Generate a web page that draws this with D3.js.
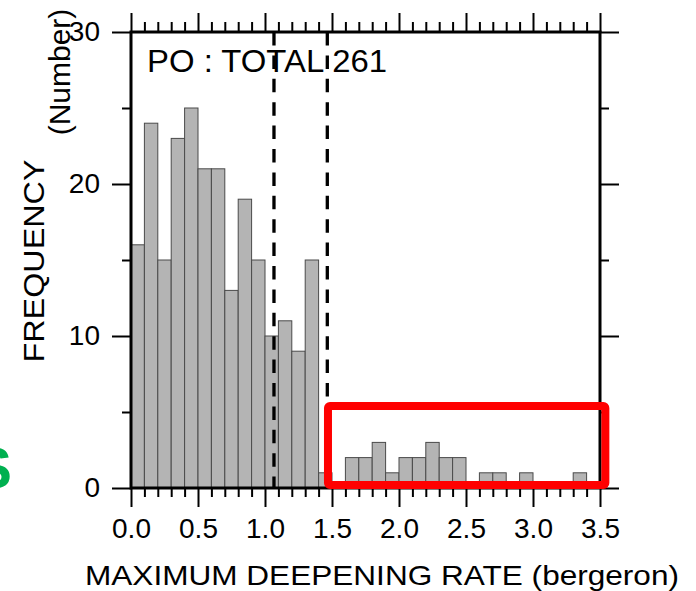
<!DOCTYPE html>
<html lang="en">
<head>
<meta charset="UTF-8">
<title>PO : TOTAL 261</title>
<script src="https://cdn.jsdelivr.net/npm/d3@7/dist/d3.min.js"></script>
<style>
    body { margin: 0; background: #fff; }
    svg text { font-family: "Liberation Sans", Arial, sans-serif; fill: #000; }
    .bar { fill: #b4b4b4; stroke: #4a4a4a; stroke-width: 1; }
    .tick line { stroke: #000; stroke-width: 2; }
    .tick text { font-size: 28px; }
</style>
</head>
<body>
<svg width="696" height="591"></svg>
<script>
    // histogram, bins of 0.1 bergeron starting at 0.0
    var binWidth = 0.1;
    var counts = [16, 24, 15, 23, 25, 21, 21, 13, 19, 15,
                  10, 11, 9, 15, 1, 0, 2, 2, 3, 1,
                  2, 2, 3, 2, 2, 0, 1, 1, 0, 1,
                  0, 0, 0, 1, 0];
    var xTickLabels = ["0.0", "0.5", "1.0", "1.5", "2.0", "2.5", "3.0", "3.5"];
    var yTickLabels = ["0", "10", "20", "30"];
    var thresholds = [1.067, 1.465];          // dashed lines
    var boxRange = {x: [1.47, 3.54], y: [0.2, 5.4]};   // red highlight

    var svg = d3.select("svg"),
        margin = {left: 131, top: 32, right: 96, bottom: 103},
        width = 696 - margin.left - margin.right,
        height = 591 - margin.top - margin.bottom;

    var x = d3.scaleLinear().domain([0, 3.5]).range([margin.left, margin.left + width]);
    var y = d3.scaleLinear().domain([0, 30]).range([margin.top + height, margin.top]);

    var bins = counts.map(function(c, i) { return {x0: i * binWidth, x1: (i + 1) * binWidth, n: c}; });

    svg.selectAll(".bar")
        .data(bins.filter(function(d) { return d.n > 0; }))
        .enter().append("rect")
        .attr("class", "bar")
        .attr("x", function(d) { return x(d.x0); })
        .attr("width", function(d) { return x(d.x1) - x(d.x0); })
        .attr("y", function(d) { return y(d.n); })
        .attr("height", function(d) { return y(0) - y(d.n); });

    svg.selectAll(".thr")
        .data(thresholds)
        .enter().append("line")
        .attr("x1", function(d) { return x(d); })
        .attr("x2", function(d) { return x(d); })
        .attr("y1", y(30))
        .attr("y2", y(0))
        .attr("stroke", "#000")
        .attr("stroke-width", 3.3)
        .attr("stroke-dasharray", "13.5,9.9");

    // ticks
    var majorX = xTickLabels.map(Number);
    var minorX = d3.range(0, 36).map(function(i) { return i / 10; })
        .filter(function(v) { return Math.abs(v * 2 - Math.round(v * 2)) > 1e-6; });
    var majorY = yTickLabels.map(Number);
    var minorY = [5, 15, 25];

    function noDomain(g) { g.select(".domain").remove(); }

    svg.append("g").attr("transform", "translate(0," + y(0) + ")")
        .call(d3.axisBottom(x).tickValues(minorX).tickSize(9).tickFormat("")).call(noDomain);
    svg.append("g").attr("transform", "translate(0," + y(0) + ")")
        .call(d3.axisBottom(x).tickValues(majorX).tickSize(19).tickPadding(11)
            .tickFormat(function(d, i) { return xTickLabels[i]; }))
        .call(noDomain);
    svg.append("g").attr("transform", "translate(0," + y(30) + ")")
        .call(d3.axisTop(x).tickValues(minorX).tickSize(10).tickFormat("")).call(noDomain);
    svg.append("g").attr("transform", "translate(0," + y(30) + ")")
        .call(d3.axisTop(x).tickValues(majorX).tickSize(19).tickFormat("")).call(noDomain);

    svg.append("g").attr("transform", "translate(" + x(0) + ",0)")
        .call(d3.axisLeft(y).tickValues(minorY).tickSize(9).tickFormat("")).call(noDomain);
    svg.append("g").attr("transform", "translate(" + x(0) + ",0)")
        .call(d3.axisLeft(y).tickValues(majorY).tickSize(19).tickPadding(12)
            .tickFormat(function(d, i) { return yTickLabels[i]; }))
        .call(noDomain);
    svg.append("g").attr("transform", "translate(" + x(3.5) + ",0)")
        .call(d3.axisRight(y).tickValues(minorY).tickSize(9).tickFormat("")).call(noDomain);
    svg.append("g").attr("transform", "translate(" + x(3.5) + ",0)")
        .call(d3.axisRight(y).tickValues(majorY).tickSize(19).tickFormat("")).call(noDomain);

    // frame
    svg.append("rect")
        .attr("x", x(0)).attr("y", y(30))
        .attr("width", x(3.5) - x(0)).attr("height", y(0) - y(30))
        .attr("fill", "none").attr("stroke", "#000").attr("stroke-width", 3);

    // title
    svg.append("text")
        .attr("x", 147).attr("y", 72)
        .attr("font-size", 31)
        .attr("textLength", 240).attr("lengthAdjust", "spacingAndGlyphs")
        .text("PO : TOTAL 261");

    // axis titles
    svg.append("text")
        .attr("x", 85).attr("y", 585)
        .attr("font-size", 28)
        .attr("textLength", 594).attr("lengthAdjust", "spacingAndGlyphs")
        .text("MAXIMUM DEEPENING RATE (bergeron)");

    svg.append("text")
        .attr("transform", "translate(44,261) rotate(-90)")
        .attr("text-anchor", "middle")
        .attr("font-size", 30)
        .attr("textLength", 203).attr("lengthAdjust", "spacingAndGlyphs")
        .text("FREQUENCY");

    svg.append("text")
        .attr("transform", "translate(70,72) rotate(-90)")
        .attr("text-anchor", "middle")
        .attr("font-size", 30)
        .text("(Number)");

    // highlight box
    svg.append("rect")
        .attr("x", x(boxRange.x[0])).attr("y", y(boxRange.y[1]))
        .attr("width", x(boxRange.x[1]) - x(boxRange.x[0]))
        .attr("height", y(boxRange.y[0]) - y(boxRange.y[1]))
        .attr("rx", 2)
        .attr("fill", "none").attr("stroke", "#ff0000").attr("stroke-width", 8);

    // clipped green mark at left edge (cut off in the original too)
    svg.append("text")
        .attr("x", 12).attr("y", 488)
        .attr("text-anchor", "end")
        .attr("font-size", 58).attr("font-weight", "bold")
        .style("fill", "#00b050")
        .text("S");
</script>
</body>
</html>
